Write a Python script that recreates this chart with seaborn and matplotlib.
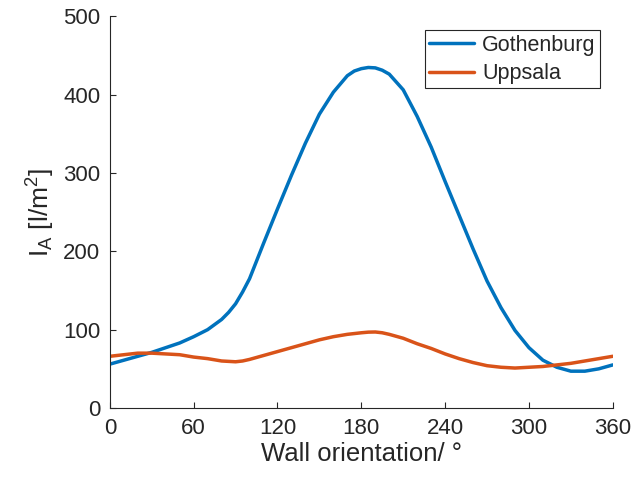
import numpy as np
import pandas as pd
import seaborn as sns
import matplotlib.pyplot as plt

# =============================================================================
# Data
# =============================================================================
ORIENTATION = [0, 10, 20, 30, 40, 50, 60, 70, 80, 85, 90, 95, 100, 110, 120,
               130, 140, 150, 160, 170, 175, 180, 185, 190, 195, 200, 210, 220,
               230, 240, 250, 260, 270, 280, 290, 300, 310, 320, 330, 340, 350,
               360]

GOTHENBURG = [56, 61, 66, 71, 77, 83, 91, 100, 113, 122, 133, 148, 165, 210,
              254, 297, 338, 375, 403, 424, 430, 433, 434.5, 434, 431, 426, 406,
              372, 333, 289, 246, 203, 162, 128, 99, 77, 61, 52, 47, 47, 50, 55]

UPPSALA = [66, 68, 70, 70, 69, 68, 65, 63, 60, 59.5, 59, 60, 62, 67, 72, 77,
           82, 87, 91, 94, 95, 96, 96.8, 97, 96, 94, 89, 82, 76, 69, 63, 58, 54,
           52, 51, 52, 53, 55, 57, 60, 63, 66]

CITIES = ["Gothenburg", "Uppsala"]
COLORS = ["#0072BD", "#D95319"]
X_TICKS = [0, 60, 120, 180, 240, 300, 360]
Y_TICKS = [0, 100, 200, 300, 400, 500]
# =============================================================================

df = pd.DataFrame({
    "orientation": ORIENTATION * 2,
    "value": GOTHENBURG + UPPSALA,
    "city": [CITIES[0]] * len(ORIENTATION) + [CITIES[1]] * len(ORIENTATION),
})

sns.set_style("ticks")
plt.rcParams["font.family"] = ["Liberation Sans", "DejaVu Sans"]
plt.rcParams["mathtext.fontset"] = "custom"
plt.rcParams["mathtext.rm"] = "Liberation Sans"
plt.rcParams["mathtext.it"] = "Liberation Sans"

fig = plt.figure(figsize=(6.35, 4.82), dpi=100)
ax = fig.add_axes([0.173, 0.1535, 0.792, 0.813])

sns.lineplot(data=df, x="orientation", y="value", hue="city",
             palette=dict(zip(CITIES, COLORS)), linewidth=2.5, ax=ax)

ax.set_xlim(0, 360)
ax.set_ylim(0, 500)
ax.set_xticks(X_TICKS)
ax.set_yticks(Y_TICKS)
ax.tick_params(direction="in", length=4, width=0.8, labelsize=16,
               colors="#262626", pad=7)
for side in ["left", "bottom"]:
    ax.spines[side].set_color("#262626")
    ax.spines[side].set_linewidth(0.8)
sns.despine(ax=ax)

ax.set_xlabel("Wall orientation/ °", fontsize=18.5, color="#262626", labelpad=2)
ax.set_ylabel(r"I$_\mathrm{A}$ [l/m$^\mathrm{2}$]", fontsize=19,
              color="#262626", labelpad=4)

leg = ax.legend(loc="upper right", bbox_to_anchor=(0.974, 0.964),
                fontsize=15.5, frameon=True, fancybox=False, handlelength=2.1,
                borderpad=0.2, labelspacing=0.35, handletextpad=0.35,
                borderaxespad=0)
leg.get_frame().set_edgecolor("#262626")
leg.get_frame().set_linewidth(0.8)
leg.get_frame().set_alpha(1)

plt.savefig("out.png", dpi=100)
plt.close()
